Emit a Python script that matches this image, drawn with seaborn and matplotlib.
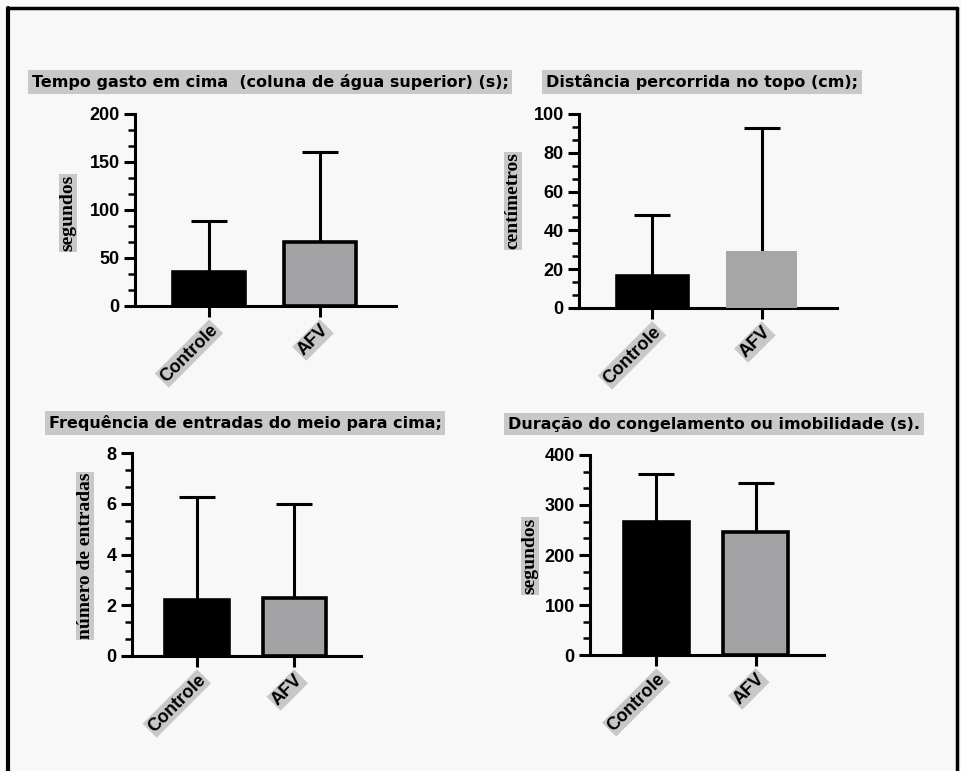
import numpy as np
import pandas as pd
import seaborn as sns
import matplotlib
matplotlib.use("Agg")
import matplotlib.pyplot as plt
from matplotlib.ticker import MultipleLocator
from matplotlib.lines import Line2D

# ---------------- data ----------------
groups = ["Controle", "AFV"]

titles = [
    "Tempo gasto em cima  (coluna de água superior) (s);",
    "Distância percorrida no topo (cm);",
    "Frequência de entradas do meio para cima;",
    "Duração do congelamento ou imobilidade (s).",
]
ylabels = ["segundos", "centímetros", "número de entradas", "segundos"]

tempo_mean = [35, 67]
tempo_sd = [54, 93]
dist_mean = [16.5, 29.5]
dist_sd = [31.5, 63.5]
freq_mean = [2.2, 2.3]
freq_sd = [4.05, 3.7]
cong_mean = [267, 247]
cong_sd = [95, 98]

ymax = [200, 100, 8, 400]
ystep = [50, 20, 2, 100]

means = [tempo_mean, dist_mean, freq_mean, cong_mean]
sds = [tempo_sd, dist_sd, freq_sd, cong_sd]

# ---------------- style ----------------
sns.set_theme(style="ticks")
bg = "#f8f8f8"
plt.rcParams["font.family"] = ["DejaVu Sans"]

W, H = 962, 771
fig = plt.figure(figsize=(W / 100, H / 100), dpi=100, facecolor=bg)

# axes rectangles in pixels: left, right, top, bottom
rects_px = [
    (135, 396, 114, 306),
    (579, 837, 114, 308),
    (132, 361, 453, 656),
    (590, 824, 455, 655),
]
title_px = [(32, 82), (546, 82), (49, 423), (508, 424)]
ylabel_px = [(68, 213), (513, 201), (85, 556), (530, 556)]

bar_colors = ["#000000", "#a2a2a6"]

for i in range(4):
    l, r, t, b = rects_px[i]
    ax = fig.add_axes([l / W, 1 - b / H, (r - l) / W, (b - t) / H])
    ax.set_facecolor("none")
    df = pd.DataFrame({"grupo": groups, "valor": means[i]})
    sns.barplot(data=df, x="grupo", y="valor", hue="grupo", palette=bar_colors,
                ax=ax, width=0.65, edgecolor="black", linewidth=2.6,
                legend=False, errorbar=None, zorder=3)
    if i == 1:
        ax.patches[1].set_edgecolor("none")
        ax.patches[1].set_facecolor("#a6a6a6")
    eb = ax.errorbar(x=np.arange(len(groups)), y=means[i],
                     yerr=[np.zeros(len(groups)), sds[i]], fmt="none",
                     ecolor="black", elinewidth=2.2, capsize=13, capthick=2.2,
                     zorder=2)
    caps = eb[1]
    if len(caps) == 2:
        caps[0].set_visible(False)
    ax.set_xlim(-0.67, 1.69)
    ax.set_ylim(0, ymax[i])
    ax.yaxis.set_major_locator(MultipleLocator(ystep[i]))
    ax.yaxis.set_minor_locator(MultipleLocator(ystep[i] / 3))
    sns.despine(ax=ax)
    for s in ["left", "bottom"]:
        ax.spines[s].set_linewidth(2.2)
        ax.spines[s].set_color("black")
    ax.tick_params(axis="y", which="major", length=8, width=2.2,
                   labelsize=13, colors="black", pad=3)
    ax.tick_params(axis="y", which="minor", length=5, width=1.8, colors="black")
    ax.tick_params(axis="x", which="major", length=8, width=2.2,
                   labelsize=13, colors="black", pad=3)
    ax.set_xlabel("")
    ax.set_ylabel("")
    for lab in ax.get_yticklabels():
        lab.set_fontweight("bold")
        lab.set_family(["Liberation Sans", "DejaVu Sans"])
    ax.set_xticks(range(len(groups)))
    ax.set_xticklabels(groups, rotation=45, ha="right", rotation_mode="anchor",
                       fontweight="bold", family=["Liberation Sans", "DejaVu Sans"],
                       bbox=dict(facecolor="#c8c8c8", edgecolor="none", pad=1.0))
    # title
    tx, ty = title_px[i]
    fig.text(tx / W, 1 - ty / H, titles[i], ha="left", va="center",
             fontsize=11.5, fontweight="bold", color="black",
             bbox=dict(facecolor="#c8c8c8", edgecolor="none", pad=2.5))
    # y label
    lx, ly = ylabel_px[i]
    fig.text(lx / W, 1 - ly / H, ylabels[i], rotation=90, ha="center", va="center",
             fontsize=14, fontweight="bold", color="black",
             family=["Liberation Serif", "DejaVu Serif"],
             bbox=dict(facecolor="#c8c8c8", edgecolor="none", pad=0.5))

# border
fig.add_artist(Line2D([8 / W, 8 / W], [0, 1 - 8 / H], color="black", lw=3,
                      transform=fig.transFigure))
fig.add_artist(Line2D([8 / W, 957 / W], [1 - 8 / H, 1 - 8 / H], color="black",
                      lw=2.5, transform=fig.transFigure))
fig.add_artist(Line2D([957 / W, 957 / W], [0, 1 - 8 / H], color="black", lw=2.5,
                      transform=fig.transFigure))

fig.savefig("out.png", dpi=100, facecolor=bg)
